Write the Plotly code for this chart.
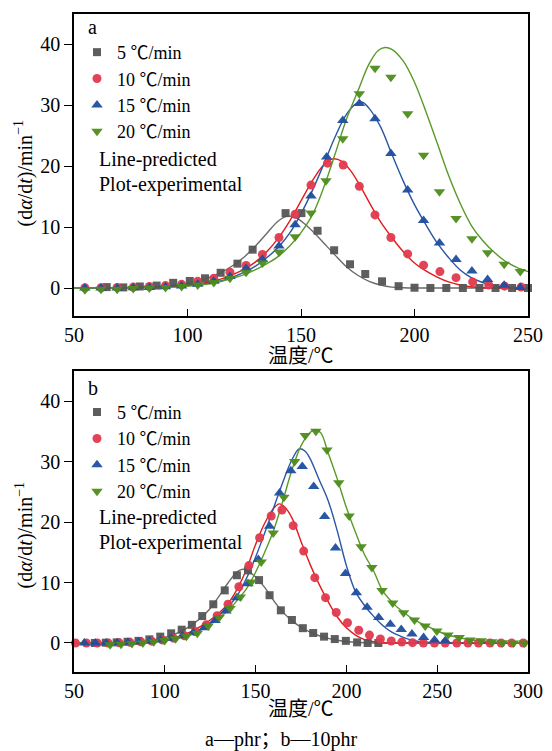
import plotly.graph_objects as go

# ---------------- Panel a (phr) : experimental points ----------------
a_T5 = [64.4, 71.7, 79.0, 86.4, 93.7, 101.0, 107.7, 114.6, 122.0, 128.7, 143.2, 150.2, 157.3,
        164.6, 171.6, 178.3, 185.7, 193.0, 200.0, 207.0, 214.0, 221.3, 228.6, 235.7, 243.0, 250.0]
a_V5 = [0.15, 0.1, 0.25, 0.4, 0.85, 1.15, 1.6, 2.5, 4.0, 6.3, 12.3, 12.3, 9.4,
        6.2, 3.9, 2.3, 1.1, 0.3, 0.05, 0, 0, 0, 0, 0, 0, 0]
a_T10 = [47.7, 54.8, 61.9, 69.0, 76.1, 83.2, 90.3, 97.4, 104.5, 111.6, 118.7, 125.8, 133.0, 140.3,
         147.4, 154.4, 161.7, 168.6, 175.7, 182.6, 189.6, 197.0, 204.0, 211.2, 218.3, 225.6, 232.7,
         239.7, 247.0]
a_V10 = [0.0, 0.05, 0.05, 0.1, 0.15, 0.25, 0.4, 0.6, 1.1, 1.6, 2.6, 3.7, 5.5, 8.3,
         12.1, 16.9, 20.5, 20.2, 16.7, 12.0, 8.3, 5.6, 3.75, 2.7, 1.7, 1.0, 0.5, 0.3, 0.15]
a_T15 = [47.7, 54.8, 61.9, 69.0, 76.1, 83.2, 90.3, 97.4, 104.5, 111.6, 118.7, 125.8, 133.0, 140.3,
         147.4, 154.4, 161.3, 168.4, 175.7, 182.6, 189.6, 197.0, 204.0, 211.0, 218.3, 225.3, 232.2,
         239.5, 246.6]
a_V15 = [0, 0, 0, 0, 0.05, 0.1, 0.2, 0.35, 0.6, 1.1, 1.9, 3.2, 4.7, 6.9,
         10.4, 15.1, 21.5, 27.5, 30.3, 27.8, 22.1, 16.1, 11.1, 7.4, 4.7, 2.8, 1.4, 0.45, 0.1]
a_T20 = [47.7, 54.8, 61.9, 69.0, 76.1, 83.2, 90.3, 97.4, 104.5, 111.6, 118.7, 125.8, 133.0, 140.3,
         147.4, 154.4, 161.0, 168.4, 175.7, 182.6, 189.6, 197.0, 204.0, 211.0, 218.3, 225.3, 232.2,
         239.5, 246.6]
a_V20 = [-0.3, -0.3, -0.2, -0.2, -0.1, 0, 0.1, 0.25, 0.5, 0.9, 1.6, 2.6, 4.1, 5.9,
         8.4, 12.3, 17.6, 24.5, 31.9, 36.1, 34.6, 28.6, 21.8, 15.8, 11.4, 8.1, 5.8, 3.9, 2.7]

# ---------------- Panel a : predicted lines ----------------
a_L5_T = [50, 60, 70, 80, 90, 100, 105, 110, 115, 120, 125, 130, 135, 140, 144, 148, 152, 156,
          160, 165, 170, 175, 180, 185, 190, 195, 200, 250]
a_L5_V = [0, 0, 0.05, 0.15, 0.35, 0.8, 1.2, 1.8, 2.6, 3.7, 5.1, 6.9, 9.0, 11.0, 11.8, 11.5, 10.4, 9.0,
          7.4, 5.4, 3.5, 2.1, 1.1, 0.5, 0.15, 0.05, 0, 0]
a_L10_T = [50, 70, 90, 100, 110, 115, 120, 125, 130, 135, 140, 145, 150, 155, 160, 164, 168, 172,
           176, 180, 185, 190, 195, 200, 205, 210, 215, 220, 225, 230, 250]
a_L10_V = [0, 0.05, 0.3, 0.6, 1.0, 1.5, 2.2, 3.1, 4.3, 6.0, 8.2, 11.0, 14.3, 17.6, 20.2, 21.2, 20.8, 19.2,
           16.8, 14.1, 10.9, 8.3, 6.0, 4.1, 2.8, 1.8, 1.0, 0.5, 0.2, 0.05, 0]
a_L15_T = [50, 70, 90, 100, 110, 115, 120, 125, 130, 135, 140, 145, 150, 155, 160, 165, 170, 174,
           177, 180, 185, 190, 195, 200, 205, 210, 215, 220, 225, 230, 235, 240, 245, 250]
a_L15_V = [0, 0, 0.2, 0.4, 0.8, 1.2, 1.8, 2.6, 3.6, 5.0, 6.7, 9.0, 12.2, 16.0, 20.3, 24.8, 28.5, 30.2,
           30.5, 29.5, 26.5, 22.0, 17.6, 13.7, 10.4, 7.4, 5.0, 3.0, 1.7, 0.9, 0.4, 0.15, 0.05, 0]
a_L20_T = [50, 70, 90, 100, 110, 120, 125, 130, 135, 140, 145, 150, 155, 160, 165, 170, 175, 180,
           184, 187, 190, 195, 200, 205, 210, 215, 220, 225, 230, 235, 240, 245, 250]
a_L20_V = [0, 0, 0.1, 0.3, 0.7, 1.6, 2.2, 3.0, 4.0, 5.2, 6.9, 9.1, 12.0, 16.5, 22.0, 27.7, 32.3, 36.8,
           39.0, 39.5, 39.2, 37.3, 33.8, 29.0, 23.8, 18.5, 14.0, 10.3, 7.8, 5.9, 4.4, 3.4, 2.7]

# ---------------- Panel b (10phr) : experimental points ----------------
b_T5 = [61.5, 67.5, 73.5, 79.5, 85.5, 91.5, 97.5, 103.5, 109.3, 114.9, 120.6, 126.7, 133.0, 139.7,
        145.8, 151.9, 157.7, 163.9, 170.0, 176.0, 181.7, 187.7, 193.6, 199.7, 205.9, 211.7, 217.6]
b_V5 = [0, 0.05, 0.1, 0.2, 0.35, 0.6, 1.05, 1.6, 2.2, 3.0, 4.45, 6.4, 8.7, 11.2,
        12.0, 10.4, 7.9, 5.4, 3.8, 2.45, 1.65, 1.05, 0.65, 0.35, 0.1, 0.0, 0.0]
b_T10 = [50.8, 56.8, 62.8, 68.8, 74.8, 80.8, 86.8, 92.8, 98.8, 104.8, 110.8, 116.8, 122.8, 128.8,
         134.8, 140.8, 146.3, 152.2, 158.6, 164.5, 170.7, 176.5, 182.6, 188.5, 194.4, 200.6, 206.8,
         212.7, 218.7, 224.7, 230.5, 236.4, 242.4, 248.5, 254.4, 260.8, 266.9, 272.7, 279.1, 285.2,
         291.0, 297.4]
b_V10 = [0, 0, 0, 0, 0.05, 0.1, 0.2, 0.3, 0.5, 0.8, 1.2, 1.9, 3.0, 4.5,
         6.4, 9.3, 12.8, 17.4, 21.0, 22.0, 19.4, 15.2, 10.8, 7.5, 5.05, 3.35, 2.1,
         1.3, 0.66, 0.33, 0.15, 0.05, 0, 0, 0, 0, 0, 0, 0, 0, 0, 0]
b_T15 = [49.7, 55.7, 61.7, 67.7, 73.7, 79.7, 85.7, 91.7, 97.7, 103.7, 109.7, 115.7, 121.7, 127.7,
         133.7, 139.7, 145.8, 151.5, 157.7, 163.2, 169.4, 175.7, 182.0, 188.0, 194.0, 199.5, 205.5,
         211.4, 217.8, 224.2, 230.2, 236.1, 242.5, 248.5, 254.4]
b_V15 = [0, 0, 0, 0, 0.05, 0.1, 0.2, 0.3, 0.5, 0.8, 1.2, 1.7, 2.5, 3.7,
         5.3, 7.5, 9.8, 13.8, 19.3, 24.8, 28.5, 29.2, 25.9, 20.9, 15.7, 11.5, 8.3,
         5.9, 4.2, 3.1, 2.25, 1.5, 0.9, 0.5, 0.35]
b_T20 = [69.9, 75.9, 81.9, 87.9, 93.9, 99.9, 105.9, 111.9, 117.9, 123.9, 129.9, 135.9, 141.6, 147.6,
         153.1, 159.7, 165.6, 171.5, 177.3, 183.2, 189.3, 195.8, 201.5, 208.1, 214.0, 219.6, 225.5,
         231.5, 237.5, 243.4, 249.8, 255.9, 262.1, 268.2, 274.2, 280.1, 285.9, 292.0, 298.0]
b_V20 = [-0.3, -0.2, -0.1, 0.0, 0.2, 0.4, 0.7, 1.1, 1.6, 2.8, 4.2, 5.7, 7.6, 10.1,
         13.4, 18.2, 24.1, 30.0, 34.3, 35.0, 31.9, 26.5, 21.0, 15.9, 12.5, 8.7, 6.6,
         5.0, 3.8, 2.8, 2.0, 1.3, 0.9, 0.5, 0.35, 0.2, 0.05, 0, 0]

# ---------------- Panel b : predicted lines ----------------
b_L5_T = [50, 80, 90, 100, 105, 110, 115, 120, 125, 130, 135, 140, 143, 146, 150, 155, 160, 165,
          170, 175, 180, 185, 190, 195, 200, 210, 220, 300]
b_L5_V = [0, 0.1, 0.3, 0.9, 1.4, 2.1, 3.0, 4.2, 5.7, 7.8, 10.0, 11.8, 12.2, 11.9, 10.9, 9.2, 7.0, 5.1,
          3.7, 2.6, 1.8, 1.2, 0.75, 0.45, 0.25, 0.05, 0, 0]
b_L10_T = [50, 90, 100, 110, 120, 125, 130, 135, 140, 145, 150, 155, 160, 163, 166, 170, 175, 180,
           185, 190, 195, 200, 205, 210, 215, 220, 230, 300]
b_L10_V = [0, 0.2, 0.5, 1.3, 2.8, 3.8, 5.0, 6.6, 9.0, 12.2, 16.3, 19.8, 22.3, 23.0, 22.5, 20.7, 16.8, 13.0,
           9.7, 6.8, 4.3, 2.5, 1.3, 0.55, 0.2, 0.05, 0, 0]
b_L15_T = [50, 90, 100, 110, 120, 130, 135, 140, 145, 150, 155, 160, 165, 170, 174, 177, 180, 185,
           190, 195, 200, 205, 210, 215, 220, 225, 230, 235, 240, 245, 250, 300]
b_L15_V = [0, 0.1, 0.4, 1.0, 2.2, 4.6, 6.0, 7.9, 10.7, 14.2, 18.2, 22.4, 26.6, 30.3, 32.1, 31.8, 30.5, 27.0,
           23.5, 18.5, 12.8, 8.5, 6.2, 4.4, 2.9, 1.8, 1.1, 0.55, 0.25, 0.1, 0, 0]
b_L20_T = [50, 90, 100, 110, 120, 130, 135, 140, 145, 150, 155, 160, 165, 170, 175, 180, 183, 186,
           190, 195, 200, 205, 210, 215, 220, 225, 230, 235, 240, 245, 250, 255, 260, 265, 270, 280,
           290, 300]
b_L20_V = [0, 0.1, 0.35, 1.0, 2.3, 4.2, 5.4, 7.1, 9.0, 11.7, 15.0, 18.7, 23.5, 28.6, 32.6, 34.8, 35.3, 34.7,
           31.4, 27.1, 22.4, 18.3, 14.6, 11.9, 8.6, 6.8, 5.4, 4.3, 3.4, 2.7, 2.0, 1.4, 1.0, 0.7, 0.45, 0.2,
           0.05, 0]

names = ["5 ℃/min", "10 ℃/min", "15 ℃/min", "20 ℃/min"]
mcolors = ["#555555", "#e03a4e", "#1f4e9f", "#4d8c1c"]
lcolors = ["#6a6a6a", "#e31a1c", "#2a56a5", "#5a9a28"]
symbols = ["square", "circle", "triangle-up", "triangle-down"]
msizes = [8, 9, 10, 10]

FONT = "Liberation Serif, Times New Roman, Noto Sans CJK SC, serif"

fig = go.Figure()

panels = [
    ("x", "y", "legend",
     [(a_T5, a_V5), (a_T10, a_V10), (a_T15, a_V15), (a_T20, a_V20)],
     [(a_L5_T, a_L5_V), (a_L10_T, a_L10_V), (a_L15_T, a_L15_V), (a_L20_T, a_L20_V)]),
    ("x2", "y2", "legend2",
     [(b_T5, b_V5), (b_T10, b_V10), (b_T15, b_V15), (b_T20, b_V20)],
     [(b_L5_T, b_L5_V), (b_L10_T, b_L10_V), (b_L15_T, b_L15_V), (b_L20_T, b_L20_V)]),
]

for xa, ya, leg, pts, lines in panels:
    for i, (lt, lv) in enumerate(lines):
        fig.add_trace(go.Scatter(x=lt, y=lv, mode="lines", xaxis=xa, yaxis=ya,
                                 line=dict(color=lcolors[i], width=1.4, shape="spline", smoothing=1.0),
                                 showlegend=False, hoverinfo="skip"))
    for i, (pt, pv) in enumerate(pts):
        fig.add_trace(go.Scatter(x=pt, y=pv, mode="markers", xaxis=xa, yaxis=ya, name=names[i],
                                 marker=dict(symbol=symbols[i], size=msizes[i], color=mcolors[i],
                                             opacity=0.95, line=dict(width=0)),
                                 cliponaxis=False, legend=leg))

axis_common = dict(showline=True, linecolor="black", linewidth=1.5, mirror=True,
                   showgrid=False, zeroline=False, tickfont=dict(family=FONT, size=20, color="black"),
                   ticks="outside", ticklen=8, tickwidth=1.3, tickcolor="black")

xcommon = dict(axis_common)
xcommon.update(ticks="inside", ticklen=7)
ycommon = dict(axis_common)

# The page body has an 8 px margin: the figure is offset by it, and the plot areas
# land at page pixels x 74..528, y 12..672.
TOPDOM = [0.541, 1.0]
BOTDOM = [0.0, 0.4576]

LEGFONT = dict(family=FONT, size=18, color="black")
fig.update_layout(
    width=544, height=743, autosize=False,
    margin=dict(l=66, r=24, t=4, b=79),
    paper_bgcolor="white", plot_bgcolor="white",
    xaxis=dict(xcommon, range=[50, 250], dtick=50, tick0=50, anchor="y", domain=[0, 1]),
    yaxis=dict(ycommon, range=[-4.6, 45], dtick=10, tick0=0, anchor="x", domain=TOPDOM),
    xaxis2=dict(xcommon, range=[50, 300], dtick=50, tick0=50, anchor="y2", domain=[0, 1]),
    yaxis2=dict(ycommon, range=[-4.8, 45], dtick=10, tick0=0, anchor="x2", domain=BOTDOM),
    showlegend=True,
)

def px2paper(X, Y):
    return (X - 74) / 454.0, (672 - Y) / 660.0

lx, ly = px2paper(77, 32)
fig.update_layout(legend=dict(x=lx, y=ly, xanchor="left", yanchor="top", bgcolor="rgba(0,0,0,0)",
                              font=LEGFONT, tracegroupgap=0, itemwidth=30))
lx, ly = px2paper(77, 393)
fig.update_layout(legend2=dict(x=lx, y=ly, xanchor="left", yanchor="top", bgcolor="rgba(0,0,0,0)",
                               font=LEGFONT, tracegroupgap=0, itemwidth=30))

def ann(text, X, Y, size=20, xanchor="left", angle=0):
    xp, yp = px2paper(X, Y)
    fig.add_annotation(text=text, x=xp, y=yp, xref="paper", yref="paper", showarrow=False,
                       xanchor=xanchor, yanchor="middle", textangle=angle,
                       font=dict(family=FONT, size=size, color="black"))

for txt, X, Y in [("a", 86, 25), ("Line-predicted", 97, 158), ("Plot-experimental", 97, 183),
                  ("b", 86, 387), ("Line-predicted", 97, 517), ("Plot-experimental", 97, 542)]:
    ann(txt, X, Y)

ytitle = "(d<i>α</i>/d<i>t</i>)/min<sup>−1</sup>"
ann(ytitle, 24, 172, size=20, xanchor="center", angle=-90)
ann(ytitle, 24, 535, size=20, xanchor="center", angle=-90)

ann("温度/℃", 301, 355, size=20, xanchor="center")
ann("温度/℃", 301, 709, size=20, xanchor="center")

ann("a—phr；b—10phr", 281, 740, size=20, xanchor="center")

fig.write_html("out.html")
